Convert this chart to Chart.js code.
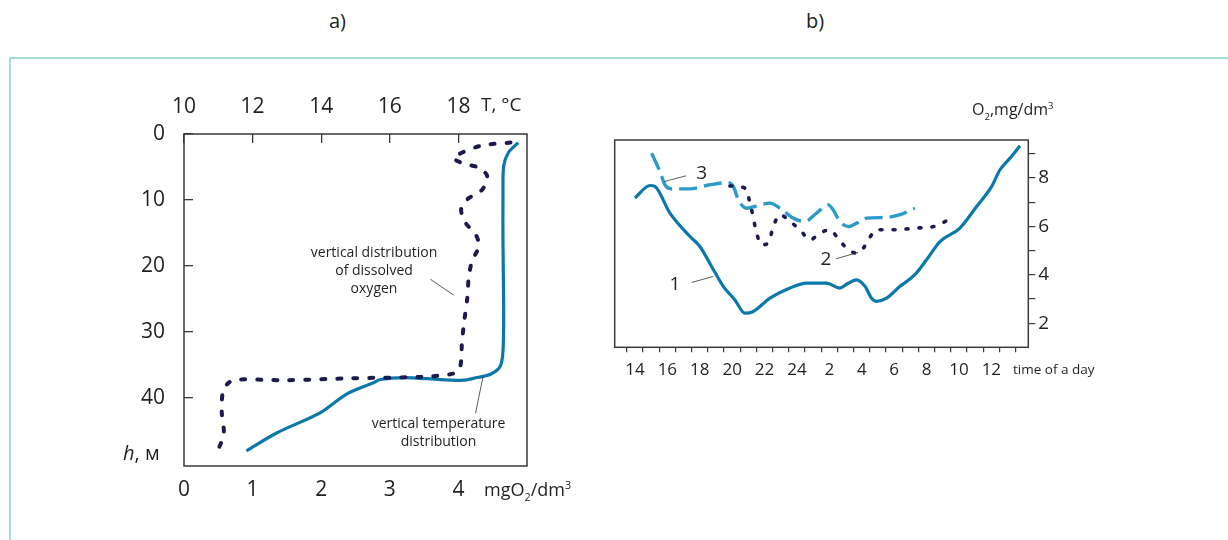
<!DOCTYPE html>
<html>
<head>
<meta charset="utf-8">
<script src="https://cdn.jsdelivr.net/npm/chart.js@4/dist/chart.umd.min.js"></script>
<style>
  body { margin: 0; width: 1228px; height: 540px; position: relative; background: #fff; overflow: hidden;
         font-family: 'Open Sans', sans-serif; color: #231f20; }
  .frame { position: absolute; left: 9px; top: 57px; width: 1240px; height: 500px;
           border-top: 2px solid #a3dcdc; border-left: 2px solid #a3dcdc; }
  .txt { position: absolute; white-space: nowrap; line-height: 1.2; }
  .box { position: absolute; }
  sub, sup { font-size: 60%; }
</style>
</head>
<body>
<div class="frame"></div>
<div class="txt" style="left:329px;top:9px;font-size:20px">a)</div>
<div class="txt" style="left:806px;top:9px;font-size:20px">b)</div>

<div class="box" style="left:100px;top:90px;width:500px;height:420px"><canvas id="chartA" width="500" height="420"></canvas></div>
<div class="box" style="left:560px;top:90px;width:620px;height:300px"><canvas id="chartB" width="620" height="300"></canvas></div>

<div class="txt" style="left:481px;top:93px;font-size:19px">T, °C</div>
<div class="txt" style="left:484px;top:479px;font-size:18px">mgO<sub>2</sub>/dm<sup>3</sup></div>
<div class="txt" style="left:123px;top:441px;font-size:20px"><i>h</i>, м</div>
<div class="txt" style="left:972px;top:100px;font-size:16px">O<sub>2</sub>,mg/dm<sup>3</sup></div>
<div class="txt" style="left:1013px;top:361px;font-size:13.5px">time of a day</div>

<script>
// a) depth profiles
const oxyDepth = [1.3, 1.8, 3.6, 4.5, 5.1, 6.4, 8.4, 9.9, 11.4, 13.4, 15.2, 17.0, 19.2, 21.8, 24.8, 28.8, 31.9, 34.4, 35.9, 36.4, 36.8, 37.0, 37.3, 37.2, 37.7, 38.9, 42.0, 45.5, 47.8];
const oxyMg = [4.76, 4.32, 3.93, 4.08, 4.30, 4.42, 4.35, 4.13, 4.04, 4.10, 4.25, 4.30, 4.20, 4.15, 4.13, 4.08, 4.05, 4.04, 4.00, 3.88, 3.45, 2.47, 1.50, 0.77, 0.65, 0.57, 0.55, 0.58, 0.50];
const tempDepth = [1.3, 2.8, 4.8, 9.1, 16.7, 26.8, 32.9, 35.2, 36.4, 36.9, 37.3, 37.2, 36.9, 37.2, 37.7, 39.4, 42.2, 45.3, 48.0];
const tempC = [19.74, 19.46, 19.32, 19.30, 19.30, 19.32, 19.30, 19.22, 18.94, 18.54, 18.16, 17.48, 16.40, 15.72, 15.52, 14.74, 13.98, 12.70, 11.82];
const depthTicks = [0, 10, 20, 30, 40];
const mgTicks = [0, 1, 2, 3, 4];
const tTicks = [10, 12, 14, 16, 18];

// b) daily course of O2 (hours counted from 14:00, past midnight = 24 + h)
const hours1 = [14.0, 14.93, 15.23, 16.16, 17.40, 18.01, 18.73, 19.45, 20.17, 20.79, 21.30, 22.33, 23.57, 24.60, 25.83, 26.65, 27.17, 27.68, 28.20, 28.61, 28.92, 29.53, 30.36, 31.28, 32.00, 32.83, 34.06, 35.09, 36.02, 36.53, 37.15, 37.77];
const o2Curve1 = [7.17, 7.69, 7.65, 6.55, 5.58, 5.17, 4.34, 3.52, 2.96, 2.41, 2.48, 3.03, 3.45, 3.65, 3.65, 3.45, 3.65, 3.79, 3.52, 3.03, 2.90, 3.03, 3.52, 4.00, 4.62, 5.37, 5.93, 6.82, 7.65, 8.34, 8.82, 9.33];
const hours2 = [19.86, 20.79, 21.20, 21.51, 21.82, 22.23, 22.54, 22.95, 23.57, 24.19, 24.80, 25.42, 26.04, 26.45, 26.96, 27.68, 28.10, 28.40, 28.92, 29.95, 31.39, 32.42, 33.03, 33.75];
const o2Curve2 = [7.67, 7.58, 6.68, 5.72, 5.24, 5.31, 5.99, 6.48, 6.20, 5.86, 5.44, 5.72, 5.86, 5.58, 5.17, 4.89, 5.10, 5.44, 5.86, 5.86, 5.93, 5.99, 6.16, 6.43];
const hours3 = [15.03, 15.54, 15.85, 16.26, 17.40, 18.63, 19.76, 20.07, 20.38, 20.89, 21.72, 22.33, 22.95, 23.77, 24.49, 25.21, 25.93, 26.24, 26.65, 27.17, 27.68, 28.30, 29.53, 30.36, 31.28];
const o2Curve3 = [9.02, 8.27, 7.72, 7.55, 7.55, 7.72, 7.81, 7.65, 7.10, 6.75, 6.89, 6.96, 6.75, 6.34, 6.20, 6.55, 6.89, 6.68, 6.20, 5.99, 6.13, 6.34, 6.37, 6.48, 6.75];
const hourTicks = [13, 14, 15, 16, 17, 18, 19, 20, 21, 22, 23, 24, 25, 26, 27, 28, 29, 30, 31, 32, 33, 34, 35, 36, 37, 38];
const o2Ticks = [2, 3, 4, 5, 6, 7, 8, 9];

const SOLID = '#0b78ab';
const LIGHT = '#2c9bc8';
const NAVY = '#1b1a4f';
const INK = '#231f20';

Chart.defaults.font.family = "'Open Sans', sans-serif";
Chart.defaults.color = INK;

const pairs = (xs, ys) => xs.map((x, i) => ({ x: x, y: ys[i] }));

// plot frame + callouts drawn in data coordinates
const frame = {
  id: 'frame',
  afterDatasetsDraw(chart) {
    const { ctx, chartArea: a } = chart;
    ctx.save();
    ctx.strokeStyle = '#3a3a3a';
    ctx.lineWidth = 1.5;
    ctx.strokeRect(a.left, a.top, a.right - a.left, a.bottom - a.top);
    ctx.restore();
  }
};
const callouts = {
  id: 'callouts',
  afterDatasetsDraw(chart, args, opts) {
    const ctx = chart.ctx;
    const sx = chart.scales[opts.xScale], sy = chart.scales[opts.yScale];
    ctx.save();
    (opts.items || []).forEach(it => {
      if (it.line) {
        ctx.strokeStyle = '#333';
        ctx.lineWidth = 0.8;
        ctx.beginPath();
        ctx.moveTo(sx.getPixelForValue(it.line[0]), sy.getPixelForValue(it.line[1]));
        ctx.lineTo(sx.getPixelForValue(it.line[2]), sy.getPixelForValue(it.line[3]));
        ctx.stroke();
      }
      ctx.fillStyle = INK;
      ctx.font = it.size + "px 'Open Sans', sans-serif";
      ctx.textAlign = 'center';
      ctx.textBaseline = 'middle';
      const x = sx.getPixelForValue(it.x), y = sy.getPixelForValue(it.y);
      it.text.forEach((t, i) => ctx.fillText(t, x, y + i * it.size * 1.3));
    });
    ctx.restore();
  }
};

new Chart(document.getElementById('chartA'), {
  type: 'scatter',
  data: {
    datasets: [
      { label: 'vertical distribution of dissolved oxygen', data: pairs(oxyMg, oxyDepth), xAxisID: 'x', yAxisID: 'y',
        showLine: true, pointRadius: 0, borderColor: NAVY, borderWidth: 4, borderDash: [4, 12], borderCapStyle: 'round', tension: 0.3 },
      { label: 'vertical temperature distribution', data: pairs(tempC, tempDepth), xAxisID: 'xT', yAxisID: 'y',
        showLine: true, pointRadius: 0, borderColor: SOLID, borderWidth: 3.2, tension: 0.3 }
    ]
  },
  options: {
    responsive: false,
    animation: false,
    layout: { padding: { left: 0, top: 0, right: 73, bottom: 0 } },
    plugins: {
      legend: { display: false },
      tooltip: { enabled: false },
      callouts: {
        xScale: 'x', yScale: 'y',
        items: [
          { text: ['vertical distribution', 'of dissolved', 'oxygen'], x: 2.77, y: 18.0, size: 14, line: [3.59, 22.0, 3.93, 24.4] },
          { text: ['vertical temperature', 'distribution'], x: 3.71, y: 43.9, size: 14, line: [4.25, 42.3, 4.36, 36.7] }
        ]
      }
    },
    scales: {
      x: {
        type: 'linear', position: 'bottom', min: 0, max: 5,
        afterBuildTicks: s => { s.ticks = mgTicks.map(v => ({ value: v })); },
        afterFit: s => { s.height = 44; },
        grid: { drawOnChartArea: false, drawTicks: false },
        border: { display: false },
        ticks: { padding: 11, font: { size: 21 }, color: INK }
      },
      xT: {
        type: 'linear', position: 'top', min: 10, max: 20,
        afterBuildTicks: s => { s.ticks = tTicks.map(v => ({ value: v })); },
        afterFit: s => { s.height = 44; },
        grid: { drawOnChartArea: false, drawTicks: true, tickLength: -9, color: '#3a3a3a', lineWidth: 1.3 },
        border: { display: false },
        ticks: { padding: 23, font: { size: 21 }, color: INK }
      },
      y: {
        type: 'linear', position: 'left', min: 0, max: 50.3, reverse: true,
        afterBuildTicks: s => { s.ticks = depthTicks.map(v => ({ value: v })); },
        afterFit: s => { s.width = 84; },
        grid: { drawOnChartArea: false, drawTicks: true, tickLength: -9, color: '#3a3a3a', lineWidth: 1.3 },
        border: { display: false },
        ticks: { padding: 28, font: { size: 21 }, color: INK }
      }
    }
  },
  plugins: [frame, callouts]
});

new Chart(document.getElementById('chartB'), {
  type: 'scatter',
  data: {
    datasets: [
      { label: '1', data: pairs(hours1, o2Curve1), showLine: true, pointRadius: 0,
        borderColor: SOLID, borderWidth: 3.2, cubicInterpolationMode: 'monotone' },
      { label: '2', data: pairs(hours2, o2Curve2), showLine: true, pointRadius: 0,
        borderColor: NAVY, borderWidth: 3.6, borderDash: [2, 11], borderCapStyle: 'round', cubicInterpolationMode: 'monotone' },
      { label: '3', data: pairs(hours3, o2Curve3), showLine: true, pointRadius: 0,
        borderColor: LIGHT, borderWidth: 3.4, borderDash: [18, 7], cubicInterpolationMode: 'monotone' }
    ]
  },
  options: {
    responsive: false,
    animation: false,
    layout: { padding: { left: 54.7, top: 50, right: 0, bottom: 0 } },
    plugins: {
      legend: { display: false },
      tooltip: { enabled: false },
      callouts: {
        xScale: 'x', yScale: 'y',
        items: [
          { text: ['3'], x: 18.12, y: 8.2, size: 19, line: [15.81, 7.85, 17.15, 8.09] },
          { text: ['2'], x: 25.79, y: 4.62, size: 19, line: [26.41, 4.66, 27.77, 4.92] },
          { text: ['1'], x: 16.47, y: 3.58, size: 19, line: [17.5, 3.68, 18.83, 3.93] }
        ]
      }
    },
    scales: {
      x: {
        type: 'linear', position: 'bottom', min: 12.75, max: 38.28,
        afterBuildTicks: s => { s.ticks = hourTicks.map(v => ({ value: v })); },
        afterFit: s => { s.height = 42.7; },
        grid: { drawOnChartArea: false, drawTicks: true, tickLength: 5, offset: true, color: '#3a3a3a', lineWidth: 1.2 },
        border: { display: false },
        ticks: {
          autoSkip: false, maxRotation: 0, padding: 8, font: { size: 17 }, color: INK,
          callback: v => (v % 2 === 0 && v <= 36) ? String(v > 24 ? v - 24 : v) : ''
        }
      },
      y: {
        type: 'linear', position: 'right', min: 1.0, max: 9.57,
        afterBuildTicks: s => { s.ticks = o2Ticks.map(v => ({ value: v })); },
        afterFit: s => { s.width = 151.7; },
        grid: { drawOnChartArea: false, drawTicks: true, tickLength: 7, color: '#3a3a3a', lineWidth: 1.2 },
        border: { display: false },
        ticks: { padding: 3, font: { size: 19 }, color: INK, callback: v => (v % 2 === 0 ? String(v) : '') }
      }
    }
  },
  plugins: [frame, callouts]
});
</script>
</body>
</html>
